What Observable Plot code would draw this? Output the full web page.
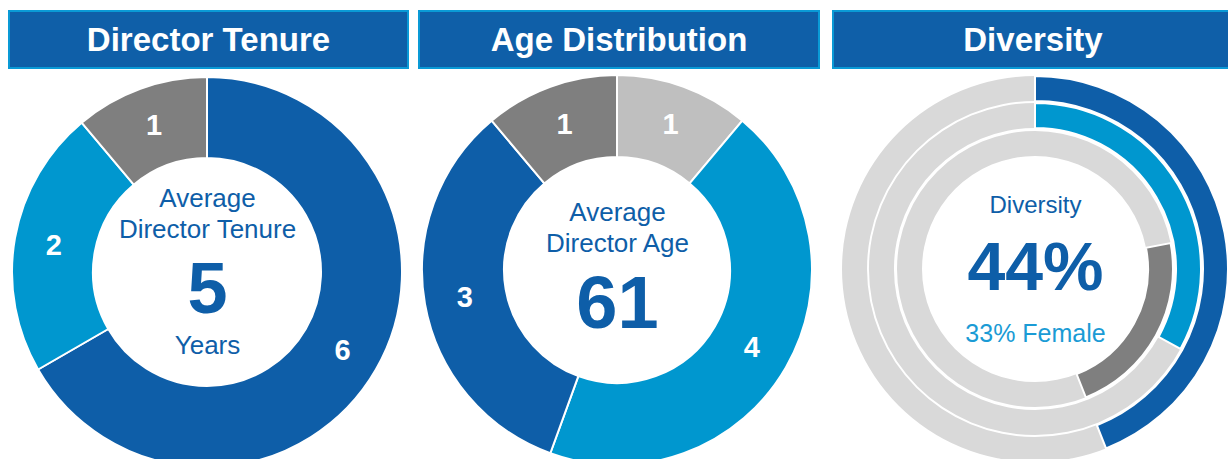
<!DOCTYPE html>
<html>
<head>
<meta charset="utf-8">
<script src="https://cdn.jsdelivr.net/npm/d3@7"></script>
<script src="https://cdn.jsdelivr.net/npm/@observablehq/plot@0.6"></script>
<style>
  html, body { margin: 0; padding: 0; background: #fff; }
  body { width: 1228px; height: 459px; overflow: hidden; position: relative; font-family: "Liberation Sans", Arial, sans-serif; }
  .hdr { position: absolute; top: 10px; height: 59px; box-sizing: border-box; background: #0f5fa8; border: 2px solid #0a9ad6;
         color: #fff; font-weight: bold; font-size: 33px; display: flex; align-items: center; justify-content: center; white-space: nowrap; }
  .chart { position: absolute; top: 70px; }
</style>
</head>
<body>
<script>
// ---------------- data ----------------
const headerTitles = ["Director Tenure", "Age Distribution", "Diversity"];

// segments clockwise from 12 o'clock
const tenureValues = [6, 2, 1];
const tenureLabels = ["6", "2", "1"];
const tenureCenter = ["Average", "Director Tenure", "5", "Years"];

const ageValues = [1, 4, 3, 1];
const ageLabels = ["1", "4", "3", "1"];
const ageCenter = ["Average", "Director Age", "61"];

const diversityRings = ["Diverse", "Female", "Other"];
const diversityStart = [0, 0, 22];    // % of circle where the coloured arc starts
const diversityShare = [44, 33, 22];  // % length of the coloured arc
const diversityCenter = ["Diversity", "44%", "33% Female"];

// ---------------- styles ----------------
const C = { dark: "#0e5ea8", light: "#0097cf", gray: "#7f7f7f", lgray: "#bfbfbf", ring: "#d9d9d9", text: "#0e5ea8", text2: "#1a9bd5" };
const tenureColors = [C.dark, C.light, C.gray];
const ageColors = [C.lgray, C.light, C.dark, C.gray];
const diversityColors = [C.dark, C.light, C.gray];
const FONT = "Liberation Sans, Arial, sans-serif";

// headers
const hdrBoxes = [[8, 401], [418, 402], [832, 402]];
headerTitles.forEach((t, i) => {
  const d = document.createElement("div");
  d.className = "hdr";
  d.style.left = hdrBoxes[i][0] + "px";
  d.style.width = hdrBoxes[i][1] + "px";
  d.textContent = t;
  document.body.appendChild(d);
});

const TAU = 2 * Math.PI;
function pieSegments(values, labels, colors, r0, r1) {
  const total = d3.sum(values);
  let acc = 0;
  return values.map((v, i) => {
    const a0 = acc / total * TAU; acc += v; const a1 = acc / total * TAU;
    return { value: v, label: labels[i], fill: colors[i], a0, a1, mid: (a0 + a1) / 2, r0, r1 };
  });
}

// custom arc mark drawn through the plot's x/y scales (data units = px, origin at donut centre)
function arcMark(segs, strokeWidth) {
  return (index, scales) => {
    const cx = scales.x(0), cy = scales.y(0);
    const k = Math.abs(scales.x(1) - scales.x(0));
    const g = d3.create("svg:g").attr("transform", `translate(${cx},${cy})`);
    const arc = d3.arc();
    for (const s of segs) {
      g.append("path")
        .attr("d", arc({ innerRadius: s.r0 * k, outerRadius: s.r1 * k, startAngle: s.a0, endAngle: s.a1 }))
        .attr("fill", s.fill)
        .attr("stroke", s.stroke == null ? "#fff" : s.stroke)
        .attr("stroke-width", s.sw == null ? strokeWidth : s.sw);
    }
    return g.node();
  };
}

function centerText(txt, dy, size, weight, color) {
  return Plot.text([txt], { x: () => 0, y: () => 0, text: d => d, dy, fontSize: size, fontWeight: weight,
    fill: color, lineAnchor: "bottom", textAnchor: "middle", fontFamily: FONT });
}

function makePlot(left, width, cxOff, cyOff, marks) {
  const height = 389;
  const p = Plot.plot({
    width, height, margin: 0,
    x: { domain: [-cxOff, width - cxOff], axis: null },
    y: { domain: [-(height - cyOff), cyOff], axis: null },
    style: { fontFamily: FONT, background: "transparent", overflow: "visible" },
    marks
  });
  p.classList.add("chart");
  p.style.left = left + "px";
  p.style.top = "70px";
  p.style.position = "absolute";
  document.body.appendChild(p);
}

// ---- Donut 1: tenure ----
{
  const segs = pieSegments(tenureValues, tenureLabels, tenureColors, 114, 195);
  const rm = 156;
  makePlot(2, 410, 205, 202, [
    arcMark(segs, 2),
    Plot.text(segs, { x: d => rm * Math.sin(d.mid), y: d => rm * Math.cos(d.mid), text: "label",
      fill: "#fff", fontSize: 29, fontWeight: "bold", fontFamily: FONT }),
    centerText(tenureCenter[0], -66, 26, "normal", C.text),
    centerText(tenureCenter[1], -35, 26, "normal", C.text),
    centerText(tenureCenter[2], 40, 72, "bold", C.text),
    centerText(tenureCenter[3], 81, 26, "normal", C.text)
  ]);
}

// ---- Donut 2: age ----
{
  const segs = pieSegments(ageValues, ageLabels, ageColors, 113, 195);
  const rm = 155;
  makePlot(412, 410, 205, 200, [
    arcMark(segs, 2),
    Plot.text(segs, { x: d => rm * Math.sin(d.mid), y: d => rm * Math.cos(d.mid), text: "label",
      fill: "#fff", fontSize: 29, fontWeight: "bold", fontFamily: FONT }),
    centerText(ageCenter[0], -50, 26, "normal", C.text),
    centerText(ageCenter[1], -19, 26, "normal", C.text),
    centerText(ageCenter[2], 57, 74, "bold", C.text)
  ]);
}

// ---- Donut 3: diversity rings ----
{
  const radii = [[168, 193], [141, 166], [113, 138]];
  const bg = radii.map(([r0, r1]) => ({ r0, r1, a0: 0, a1: TAU, fill: C.ring, stroke: "none", sw: 0 }));
  const fg = diversityRings.map((name, i) => ({
    name, r0: radii[i][0], r1: radii[i][1],
    a0: diversityStart[i] / 100 * TAU, a1: (diversityStart[i] + diversityShare[i]) / 100 * TAU,
    fill: diversityColors[i]
  }));
  makePlot(830, 398, 205, 199, [
    arcMark(bg, 0),
    arcMark(fg, 2),
    centerText(diversityCenter[0], -57, 24, "normal", C.text),
    centerText(diversityCenter[1], 20, 68, "bold", C.text),
    centerText(diversityCenter[2], 72, 25, "normal", C.text2)
  ]);
}
</script>
</body>
</html>
